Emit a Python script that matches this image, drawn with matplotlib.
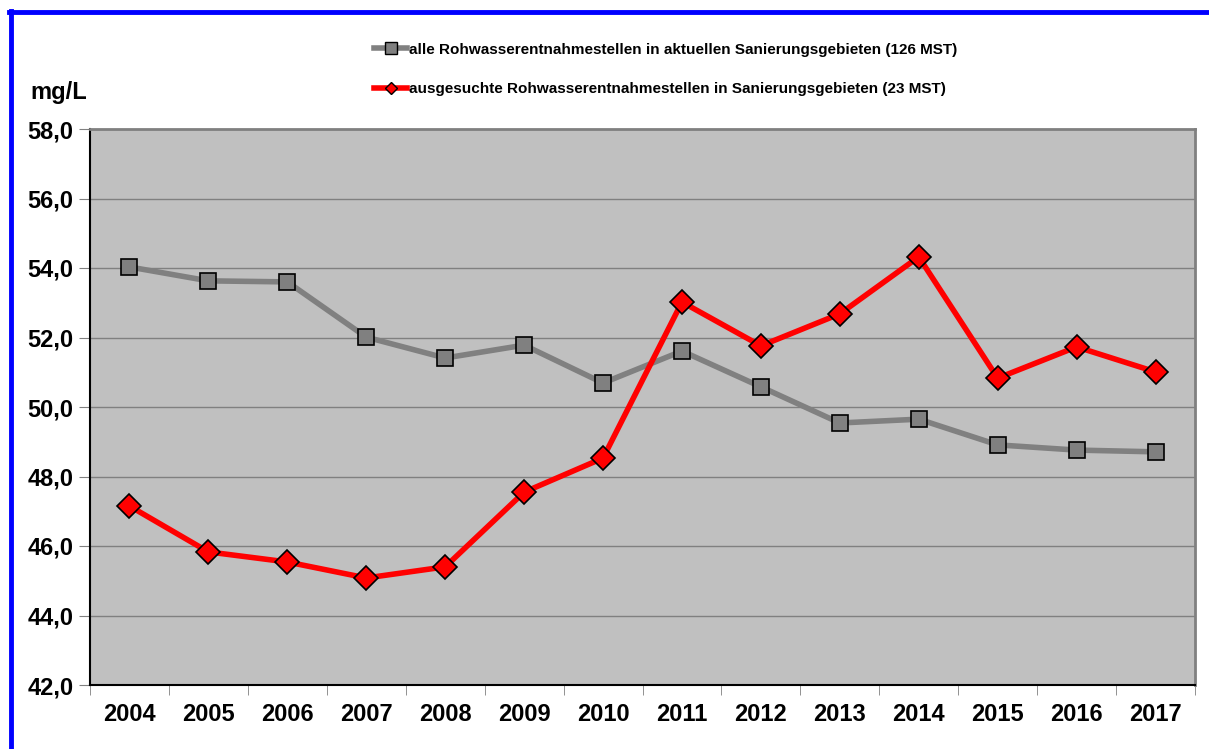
import numpy as np
import matplotlib.pyplot as plt
from matplotlib.lines import Line2D

plt.rcParams['font.family'] = ['Liberation Sans', 'DejaVu Sans']

years = ['2004', '2005', '2006', '2007', '2008', '2009', '2010',
         '2011', '2012', '2013', '2014', '2015', '2016', '2017']
alle = [54.03, 53.63, 53.60, 52.01, 51.41, 51.78, 50.69,
        51.61, 50.58, 49.54, 49.65, 48.91, 48.76, 48.71]
ausgesucht = [47.15, 45.83, 45.54, 45.08, 45.40, 47.55, 48.53,
              53.02, 51.76, 52.68, 54.32, 50.83, 51.73, 51.01]
label_alle = 'alle Rohwasserentnahmestellen in aktuellen Sanierungsgebieten (126 MST)'
label_aus = 'ausgesuchte Rohwasserentnahmestellen in Sanierungsgebieten (23 MST)'

fig = plt.figure(figsize=(12.09, 7.49), dpi=100)
ax = fig.add_axes([90/1209, 1 - 685/749, (1195-90)/1209, (685-129)/749])
ax.set_facecolor('#C0C0C0')

x = np.arange(len(years))
ax.plot(x, alle, color='#808080', lw=4, marker='s', ms=11.5,
        mfc='#808080', mec='black', mew=1.2, zorder=3)
ax.plot(x, ausgesucht, color='#FF0000', lw=4, marker='D', ms=12,
        mfc='#FF0000', mec='black', mew=1.2, zorder=4)

ax.set_xlim(-0.5, len(years) - 0.5)
ax.set_ylim(42, 58)
yt = np.arange(42, 58.1, 2)
ax.set_yticks(yt)
ax.set_yticklabels([('%.1f' % v).replace('.', ',') for v in yt])
ax.yaxis.grid(True, color='#808080', lw=1)
ax.set_axisbelow(True)

ax.set_xticks(x)
ax.set_xticklabels(years)
ax.set_xticks(np.arange(-0.5, len(years)), minor=True)
ax.tick_params(axis='x', which='major', length=0, pad=13)
ax.tick_params(axis='x', which='minor', length=7, color='#808080')
ax.tick_params(axis='y', length=8, color='#808080', pad=4)
for lab in ax.get_xticklabels() + ax.get_yticklabels():
    lab.set_fontsize(17)
    lab.set_fontweight('bold')

ax.spines['left'].set_color('black')
ax.spines['bottom'].set_color('black')
ax.spines['left'].set_linewidth(1.5)
ax.spines['bottom'].set_linewidth(1.5)
ax.spines['top'].set_color('#808080')
ax.spines['right'].set_color('#808080')
ax.spines['top'].set_linewidth(2)
ax.spines['right'].set_linewidth(2)

fig.text(30/1209, 1 - 92/749, 'mg/L', fontsize=17, fontweight='bold', va='center')

handles = [Line2D([], [], color='#808080', lw=4, marker='s', ms=8,
                  mfc='#808080', mec='black', mew=1),
           Line2D([], [], color='#FF0000', lw=4, marker='D', ms=6,
                  mfc='#FF0000', mec='black', mew=1)]
fig.legend(handles, [label_alle, label_aus], loc='upper left',
           bbox_to_anchor=(360/1209, 1 - 29/749), frameon=False,
           handlelength=2.2, handletextpad=0.1, labelspacing=1.65,
           prop={'size': 11, 'weight': 'bold'})

# blue frame on left and top
fig.add_artist(Line2D([11/1209, 11/1209], [0, 1 - 11/749], color='#0000FF',
                      lw=3.5, transform=fig.transFigure))
fig.add_artist(Line2D([9/1209, 1], [1 - 12/749, 1 - 12/749], color='#0000FF',
                      lw=3.5, transform=fig.transFigure))

fig.savefig('out.png', dpi=100)
